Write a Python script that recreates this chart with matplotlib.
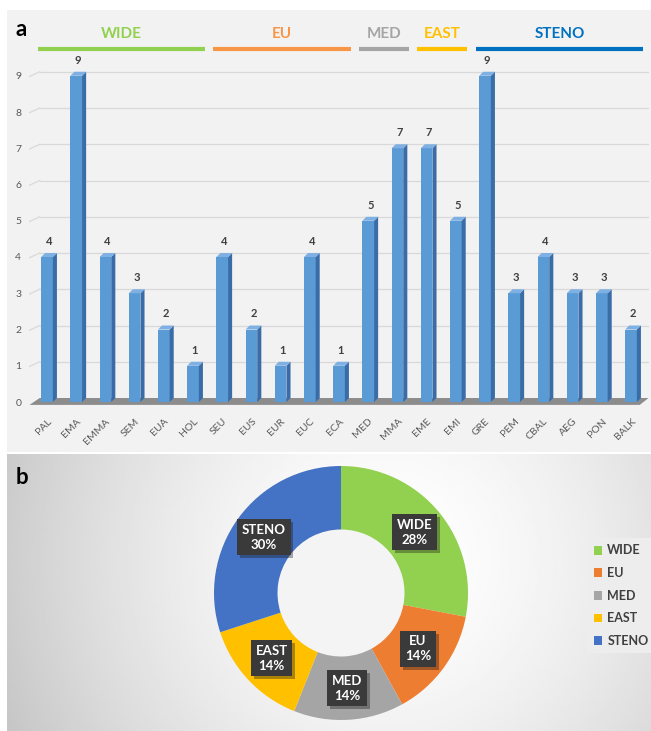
import numpy as np
import matplotlib
matplotlib.use("Agg")
from matplotlib import pyplot as plt, patches
import matplotlib.patheffects as pe

plt.rcParams['font.family'] = ['Lato', 'DejaVu Sans']

# ---- data ----
regions = ["PAL", "EMA", "EMMA", "SEM", "EUA", "HOL", "SEU", "EUS", "EUR", "EUC",
           "ECA", "MED", "MMA", "EME", "EMI", "GRE", "PEM", "CBAL", "AEG", "PON", "BALK"]
counts = [4, 9, 4, 3, 2, 1, 4, 2, 1, 4, 1, 5, 7, 7, 5, 9, 3, 4, 3, 3, 2]

groups = ["WIDE", "EU", "MED", "EAST", "STENO"]
group_first = [0, 6, 11, 13, 15]
group_last = [5, 10, 12, 14, 20]
group_line_colors = ["#92D050", "#F79646", "#A5A5A5", "#FFC000", "#0070C0"]

shares = [28, 14, 14, 14, 30]
share_colors = ["#92D050", "#ED7D31", "#A5A5A5", "#FFC000", "#4472C4"]

W, H = 651, 731
fig = plt.figure(figsize=(W / 100, H / 100), dpi=100)
fig.patch.set_facecolor("white")


def fx(px):
    return px / W


def fy(py):
    return 1 - py / H


# panel a background
ax_bga = fig.add_axes([fx(7), fy(452), fx(644), 442 / H], zorder=-2)
ax_bga.set_facecolor("#F2F2F2")
ax_bga.set_xticks([])
ax_bga.set_yticks([])
for s in ax_bga.spines.values():
    s.set_visible(False)

# radial gradient for panel b
ax_bg = fig.add_axes([fx(7), 0, fx(644), (H - 454) / H], zorder=-2)
gx, gy = np.meshgrid(np.linspace(7, 651, 300), np.linspace(454, 731, 150))
dist = np.sqrt((gx - 390) ** 2 + (gy - 560) ** 2) / 390
grad = np.clip(1.0 - 0.2 * dist ** 1.6, 0.77, 1.0)
ax_bg.imshow(grad, cmap="gray", vmin=0, vmax=1, aspect="auto",
             extent=[0, 1, 0, 1], interpolation="bilinear")
ax_bg.axis("off")

# ---- panel a: bars ----
x0_lim, x1_lim = -0.6, 20.6
px_left = 47 - 0.6 * 29.2
px_right = 631 + 0.6 * 29.2
y0_lim, y1_lim = -0.1, 9.6
py_bottom = 402 + 0.1 * 36.25
py_top = 402 - 9.6 * 36.25
ax = fig.add_axes([fx(px_left), fy(py_bottom), fx(px_right - px_left), (py_bottom - py_top) / H])
ax.set_facecolor("none")
ax.set_xlim(x0_lim, x1_lim)
ax.set_ylim(y0_lim, y1_lim)

x = np.arange(len(regions))
bw = 0.4
dx, dy = 0.14, 0.11

for yv in range(1, 10):
    ax.plot([x0_lim + 0.35, x1_lim], [yv + dy, yv + dy], color="#D9D9D9", lw=0.9, zorder=1)
    ax.plot([x0_lim + 0.0, x0_lim + 0.35], [yv - 0.02, yv + dy], color="#D9D9D9", lw=0.9, zorder=1)

# floor
floor = patches.Polygon([[x0_lim, -0.08], [x1_lim - 0.3, -0.08], [x1_lim, dy], [x0_lim + 0.35, dy]],
                        closed=True, facecolor="#8C8C8C", edgecolor="none", zorder=2)
ax.add_patch(floor)

ax.bar(x, counts, width=bw, color="#5B9BD5", edgecolor="none", zorder=3)
for xi, h in zip(x, counts):
    left, right = xi - bw / 2, xi + bw / 2
    side = patches.Polygon([[right, 0], [right + dx, dy], [right + dx, h + dy], [right, h]],
                           closed=True, facecolor="#3A6DA8", edgecolor="none", zorder=3)
    top = patches.Polygon([[left, h], [right, h], [right + dx, h + dy], [left + dx, h + dy]],
                          closed=True, facecolor="#7EB0E3", edgecolor="none", zorder=3)
    ax.add_patch(side)
    ax.add_patch(top)
    ax.text(xi + dx / 2, h + 0.28, str(h), ha="center", va="bottom", fontsize=8,
            fontweight="bold", color="#404040", zorder=4)

for s in ax.spines.values():
    s.set_visible(False)
ax.set_yticks(range(0, 10))
ax.tick_params(axis="y", length=0, labelsize=7.5, labelcolor="#595959", pad=6)
ax.set_xticks(x)
ax.set_xticklabels(regions, rotation=45, ha="right", rotation_mode="anchor")
ax.tick_params(axis="x", length=0, labelsize=7.5, labelcolor="#595959", pad=8)

# group headers
for name, a, b, c in zip(groups, group_first, group_last, group_line_colors):
    ax.plot([a - 0.32, b + 0.4], [9.74, 9.74], color=c, lw=3, clip_on=False, solid_capstyle="butt")
    ax.text((a + b) / 2 + 0.05, 9.95, name, ha="center", va="bottom", fontsize=11,
            fontweight="bold", color=c, clip_on=False)

fig.text(fx(16), fy(30), "a", fontsize=16, fontweight="bold", va="center", ha="left")
fig.text(fx(16), fy(477), "b", fontsize=16, fontweight="bold", va="center", ha="left")

# ---- panel b: donut ----
R = 127
cx, cy = 341, 593
ax2 = fig.add_axes([fx(cx - R), fy(cy + R), fx(2 * R), 2 * R / H])
ax2.set_facecolor("none")
wedges, _ = ax2.pie(shares, colors=share_colors, startangle=90, counterclock=False,
                    radius=1.0, wedgeprops=dict(width=0.5, edgecolor="none"))
ax2.set_xlim(-1, 1)
ax2.set_ylim(-1, 1)
ax2.set_aspect("equal")

# inner hole shading
hole = patches.Circle((0, 0), 0.5, facecolor="#F4F4F4", edgecolor="none", zorder=0)
ax2.add_patch(hole)

for w, name, pct in zip(wedges, groups, shares):
    ang = np.deg2rad((w.theta1 + w.theta2) / 2)
    tx, ty = 0.75 * np.cos(ang), 0.75 * np.sin(ang)
    t = ax2.text(tx, ty, f"{name}\n{pct}%", ha="center", va="center", fontsize=9.5,
                 fontweight="bold", color="white", linespacing=1.3,
                 bbox=dict(boxstyle="square,pad=0.35", facecolor="#3A3A3A", edgecolor="none"))
    t.get_bbox_patch().set_path_effects([pe.SimplePatchShadow(offset=(2, -2), alpha=0.35), pe.Normal()])

handles = [patches.Patch(facecolor=c, edgecolor="none") for c in share_colors]
leg = fig.legend(handles, groups, loc="upper left", bbox_to_anchor=(fx(581), fy(532)),
                 frameon=True, fontsize=9, handlelength=0.7, handleheight=0.7,
                 handletextpad=0.4, labelspacing=0.85, borderpad=0.5)
leg.get_frame().set_facecolor("#EDEDED")
leg.get_frame().set_edgecolor("none")
leg.get_frame().set_alpha(1)
leg.get_frame().set_boxstyle("square,pad=0")
for t in leg.get_texts():
    t.set_color("#404040")
    t.set_fontweight("bold")

fig.savefig("out.png", dpi=100)
